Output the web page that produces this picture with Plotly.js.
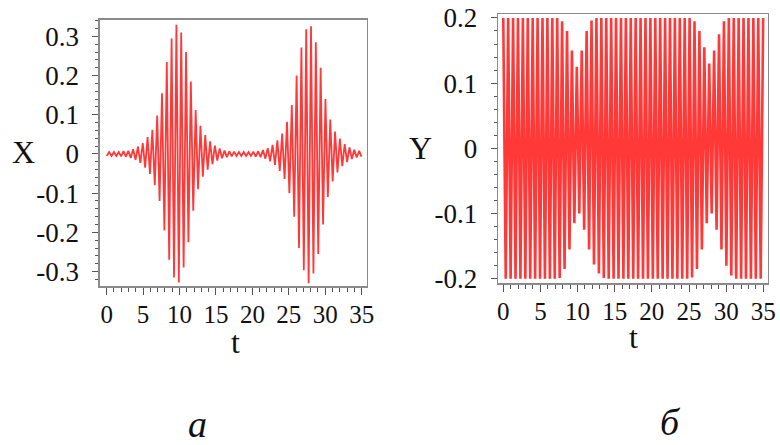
<!DOCTYPE html>
<html>
<head>
<meta charset="utf-8">
<script src="https://cdn.plot.ly/plotly-3.0.1.min.js"></script>
<style>
html,body{margin:0;padding:0;background:#fff;}
#chart{width:780px;height:445px;}
</style>
</head>
<body>
<div id="chart"></div>
<script>
// sample times (extremes of the oscillation)
const tSamples = [0,0.33,0.66,0.99,1.32,1.65,1.98,2.31,2.64,2.97,3.3,3.63,3.96,4.29,4.62,4.95,5.28,5.61,5.94,6.27,6.6,6.93,7.26,7.59,7.92,8.25,8.58,8.91,9.24,9.57,9.9,10.23,10.56,10.89,11.22,11.55,11.88,12.21,12.54,12.87,13.2,13.53,13.86,14.19,14.52,14.85,15.18,15.51,15.84,16.17,16.5,16.83,17.16,17.49,17.82,18.15,18.48,18.81,19.14,19.47,19.8,20.13,20.46,20.79,21.12,21.45,21.78,22.11,22.44,22.77,23.1,23.43,23.76,24.09,24.42,24.75,25.08,25.41,25.74,26.07,26.4,26.73,27.06,27.39,27.72,28.05,28.38,28.71,29.04,29.37,29.7,30.03,30.36,30.69,31.02,31.35,31.68,32.01,32.34,32.67,33.0,33.33,33.66,33.99,34.32,34.65,34.98];

// X(t) extremes (panel a)
const xValues = [-0.005,0.005,-0.005,0.005,-0.005,0.005,-0.006,0.007,-0.007,0.008,-0.01,0.012,-0.015,0.019,-0.023,0.028,-0.035,0.043,-0.051,0.062,-0.08,0.098,-0.12,0.155,-0.195,0.235,-0.27,0.295,-0.315,0.33,-0.328,0.31,-0.29,0.26,-0.225,0.185,-0.145,0.112,-0.09,0.072,-0.058,0.048,-0.04,0.032,-0.026,0.021,-0.017,0.014,-0.011,0.009,-0.008,0.007,-0.006,0.006,-0.005,0.005,-0.005,0.005,-0.005,0.005,-0.005,0.006,-0.007,0.007,-0.008,0.01,-0.012,0.015,-0.019,0.023,-0.028,0.035,-0.043,0.052,-0.064,0.082,-0.1,0.125,-0.16,0.2,-0.24,0.272,-0.297,0.318,-0.33,0.326,-0.305,0.285,-0.255,0.22,-0.18,0.14,-0.11,0.088,-0.07,0.057,-0.047,0.039,-0.031,0.025,-0.021,0.017,-0.013,0.011,-0.009,0.008,-0.007];

// Y(t) extremes (panel б)
const yValues = [0.2,-0.2,0.2,-0.2,0.2,-0.2,0.2,-0.2,0.2,-0.2,0.2,-0.2,0.2,-0.2,0.2,-0.2,0.2,-0.2,0.2,-0.2,0.2,-0.2,0.2,-0.199,0.195,-0.185,0.18,-0.155,0.15,-0.115,0.125,-0.1,0.15,-0.125,0.18,-0.155,0.196,-0.178,0.2,-0.192,0.2,-0.199,0.2,-0.2,0.2,-0.2,0.2,-0.2,0.2,-0.2,0.2,-0.2,0.2,-0.2,0.2,-0.2,0.2,-0.2,0.2,-0.2,0.2,-0.2,0.2,-0.2,0.2,-0.2,0.2,-0.2,0.2,-0.2,0.2,-0.2,0.2,-0.2,0.2,-0.2,0.2,-0.198,0.195,-0.185,0.18,-0.155,0.155,-0.115,0.13,-0.1,0.15,-0.125,0.175,-0.155,0.195,-0.18,0.2,-0.195,0.2,-0.2,0.2,-0.2,0.2,-0.2,0.2,-0.2,0.2,-0.2,0.2,-0.2,0.2];

const tTicks = [0,5,10,15,20,25,30,35];
const xTickVals = [-0.3,-0.2,-0.1,0,0.1,0.2,0.3];
const xTickText = ['-0.3','-0.2','-0.1','0','0.1','0.2','0.3'];
const yTickVals = [-0.2,-0.1,0,0.1,0.2];
const yTickText = ['-0.2','-0.1','0','0.1','0.2'];

const FONT = 'Liberation Serif';

const traces = [
  {x: tSamples, y: xValues, xaxis:'x', yaxis:'y', type:'scatter', mode:'lines',
   line:{color:'rgba(255,0,0,0.78)', width:1.8}, hoverinfo:'skip'},
  {x: tSamples, y: yValues, xaxis:'x2', yaxis:'y2', type:'scatter', mode:'lines',
   line:{color:'rgba(255,0,0,0.78)', width:2.6}, hoverinfo:'skip'}
];

function xAxis(domain, range, anchor){
  return {domain:domain, range:range, anchor:anchor, tickmode:'array', tickvals:tTicks,
    ticktext:tTicks.map(String), ticks:'outside', ticklen:7, tickwidth:1, tickcolor:'#555',
    minor:{tick0:0, dtick:1, ticks:'outside', ticklen:4, tickcolor:'#555'},
    showline:true, mirror:true, linecolor:'#8a8a8a', linewidth:1.5, showgrid:false, zeroline:false,
    tickangle:0, tickfont:{family:FONT, size:25, color:'#111'}, ticklabelstandoff:-2, fixedrange:true};
}
function yAxis(domain, range, anchor, vals, txt){
  return {domain:domain, range:range, anchor:anchor, tickmode:'array', tickvals:vals, ticktext:txt,
    ticks:'outside', ticklen:6, tickwidth:1, tickcolor:'#555',
    minor:{tick0:0, dtick:0.02, ticks:'outside', ticklen:3, tickcolor:'#555'},
    showline:true, mirror:true, linecolor:'#8a8a8a', linewidth:1.5, showgrid:false, zeroline:false,
    tickfont:{family:FONT, size:27, color:'#111'}, ticklabelstandoff:8, fixedrange:true};
}

const layout = {
  width:780, height:445, margin:{l:0,r:0,t:0,b:0},
  font:{family:FONT, color:'#111'},
  paper_bgcolor:'#fff', plot_bgcolor:'#fff', showlegend:false,
  xaxis: xAxis([0.1282,0.4701], [-0.92,35.69], 'y'),
  yaxis: yAxis([0.3573,0.9551], [-0.337,0.342], 'x', xTickVals, xTickText),
  xaxis2: xAxis([0.6388,0.9846], [-0.673,35.63], 'y2'),
  yaxis2: yAxis([0.3640,0.9685], [-0.2066,0.206], 'x2', yTickVals, yTickText),
  annotations: [
    {text:'X', xref:'paper', yref:'paper', x:23/780, y:1-152/445, showarrow:false, xanchor:'center', yanchor:'middle', font:{family:FONT, size:32, color:'#111'}},
    {text:'Y', xref:'paper', yref:'paper', x:420/780, y:1-148/445, showarrow:false, xanchor:'center', yanchor:'middle', font:{family:FONT, size:32, color:'#111'}},
    {text:'t', xref:'paper', yref:'paper', x:235/780, y:1-342/445, showarrow:false, xanchor:'center', yanchor:'middle', font:{family:FONT, size:32, color:'#111'}},
    {text:'t', xref:'paper', yref:'paper', x:633/780, y:1-337/445, showarrow:false, xanchor:'center', yanchor:'middle', font:{family:FONT, size:32, color:'#111'}},
    {text:'<i>а</i>', xref:'paper', yref:'paper', x:197/780, y:1-424/445, showarrow:false, xanchor:'center', yanchor:'middle', font:{family:FONT, size:38, color:'#111'}},
    {text:'<i>б</i>', xref:'paper', yref:'paper', x:670/780, y:1-422/445, showarrow:false, xanchor:'center', yanchor:'middle', font:{family:FONT, size:38, color:'#111'}}
  ]
};

Plotly.newPlot('chart', traces, layout, {staticPlot:true, displayModeBar:false});
</script>
</body>
</html>
